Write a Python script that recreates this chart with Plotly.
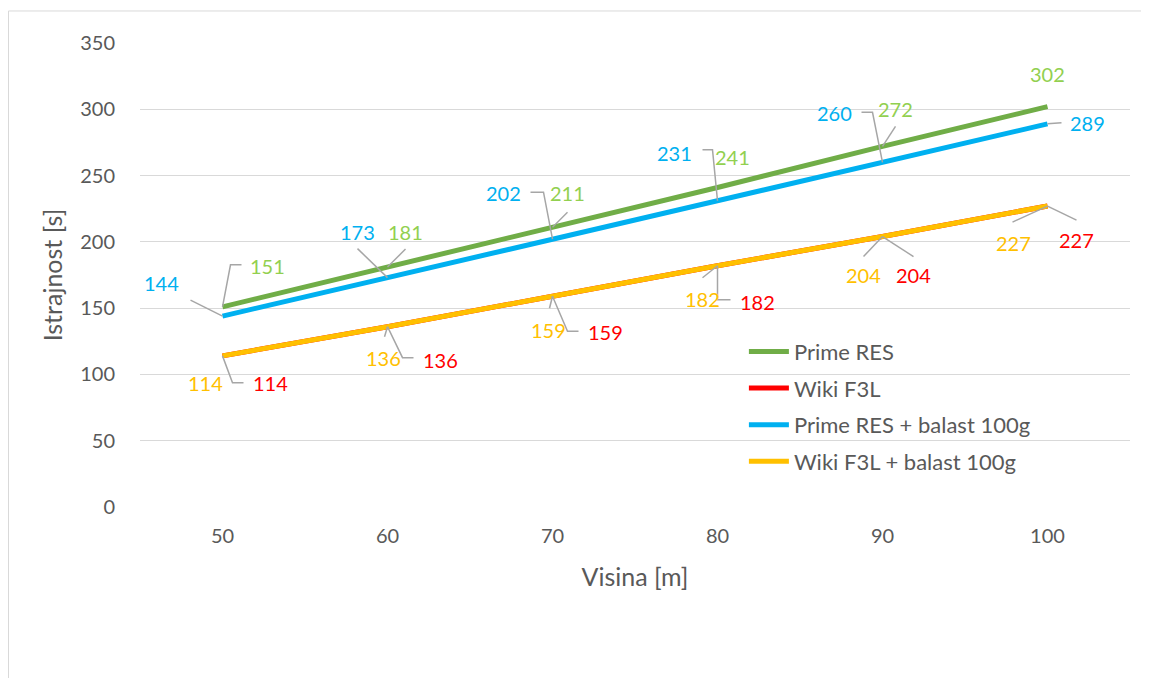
import plotly.graph_objects as go

# ---- data ----
visina = [50, 60, 70, 80, 90, 100]
prime_res = [151, 181, 211, 241, 272, 302]
wiki_f3l = [114, 136, 159, 182, 204, 227]
prime_res_balast = [144, 173, 202, 231, 260, 289]
wiki_f3l_balast = [114, 136, 159, 182, 204, 227]
y_ticks = [0, 50, 100, 150, 200, 250, 300, 350]

series_names = ["Prime RES", "Wiki F3L", "Prime RES + balast 100g", "Wiki F3L + balast 100g"]

# ---- styles ----
line_colors = ["#70AD47", "#FF0000", "#00B0F0", "#FFC000"]
label_colors = ["#92D050", "#FF0000", "#00B0F0", "#FFC000"]
FONT = "Lato, Carlito, Calibri, sans-serif"
GRAY_TXT = "#595959"
LEADER = "#A6A6A6"

# label offsets (px, screen-down) relative to each point, and leader paths
label_off = [
    [(45, -41), (18, -35), (15, -34), (15, -31), (13, -37), (0, -33)],
    [(48, 27), (53, 33), (53, 36), (40, 36), (31, 38), (29, 34)],
    [(-61, -33), (-30, -46), (-49, -46), (-43, -48), (-48, -49), (40, -1)],
    [(-17, 27), (-4, 31), (-4, 34), (-15, 33), (-19, 38), (-34, 37)],
]
leaders = [
    [[(0, 0), (8, -42), (19, -42)], [(0, 0), (18, -18)], [(0, 0), (15, -15)], None,
     [(0, 0), (13, -20)], None],
    [[(0, 0), (10, 27), (21, 27)], [(0, 0), (15, 31), (26, 31)], [(0, 0), (15, 35), (26, 35)],
     [(0, 0), (0, 34), (13, 34)], [(0, 0), (31, 20)], [(0, 0), (29, 14)]],
    [[(0, 0), (-32, -16)], [(0, 0), (-30, -29)], [(0, 0), (-9, -47), (-22, -47)],
     [(0, 0), (-5, -51), (-15, -51)], [(0, 0), (-10, -50), (-21, -50)], [(0, 0), (14, -1)]],
    [None, [(0, 0), (-3, 10)], [(0, 0), (-3, 12)], [(0, 0), (-15, 12)],
     [(0, 0), (-19, 20)], [(0, 0), (-35, 16)]],
]

all_series = [prime_res, wiki_f3l, prime_res_balast, wiki_f3l_balast]

fig = go.Figure()
for i, (name, vals) in enumerate(zip(series_names, all_series)):
    fig.add_trace(go.Scatter(
        x=visina, y=vals, name=name, mode="lines",
        line=dict(color=line_colors[i], width=5),
        legendgroup=f"g{i}",
    ))

annotations = []
shapes = []
for i, vals in enumerate(all_series):
    for j, (xv, yv) in enumerate(zip(visina, vals)):
        dx, dy = label_off[i][j]
        annotations.append(dict(
            x=xv, y=yv, xref="x", yref="y", text=str(yv), showarrow=False,
            xshift=dx, yshift=-dy, xanchor="center", yanchor="middle",
            font=dict(family=FONT, size=20, color=label_colors[i]),
        ))
        pts = leaders[i][j]
        if pts:
            path = "M" + " L".join(f"{px},{-py}" for px, py in pts)
            shapes.append(dict(
                type="path", xref="x", yref="y", xsizemode="pixel", ysizemode="pixel",
                xanchor=xv, yanchor=yv, path=path,
                line=dict(color=LEADER, width=1.5), layer="above",
            ))

# chart border (left and top visible)
shapes.append(dict(type="rect", xref="paper", yref="paper",
                   x0=-0.1328, x1=1.2, y0=-0.6, y1=1.069,
                   line=dict(color="#D9D9D9", width=1), layer="below"))

fig.update_layout(
    width=1141, height=670,
    margin=dict(l=132, r=19, t=35, b=171),
    paper_bgcolor="white", plot_bgcolor="white",
    font=dict(family=FONT, size=20, color=GRAY_TXT),
    showlegend=True,
    legend=dict(
        x=0.610, y=0.380, xanchor="left", yanchor="top",
        bgcolor="rgba(0,0,0,0)", traceorder="grouped", tracegroupgap=5,
        font=dict(family=FONT, size=22, color=GRAY_TXT),
        itemwidth=40,
    ),
    xaxis=dict(
        range=[45, 105], tickvals=visina, ticktext=[str(v) for v in visina],
        showgrid=False, zeroline=False, showline=False,
        ticks="outside", ticklen=11, tickcolor="rgba(0,0,0,0)",
        tickfont=dict(family=FONT, size=20, color=GRAY_TXT),
        title=dict(text="Visina [m]", font=dict(family=FONT, size=25, color=GRAY_TXT), standoff=22),
    ),
    yaxis=dict(
        range=[0, 350], tickvals=y_ticks,
        showgrid=True, gridcolor="#D9D9D9", gridwidth=1,
        zeroline=False, showline=False,
        ticks="outside", ticklen=20, tickcolor="rgba(0,0,0,0)",
        tickfont=dict(family=FONT, size=20, color=GRAY_TXT),
        title=dict(text="Istrajnost [s]", font=dict(family=FONT, size=25, color=GRAY_TXT), standoff=10),
    ),
    annotations=annotations,
    shapes=shapes,
)

fig.write_html("out.html")
